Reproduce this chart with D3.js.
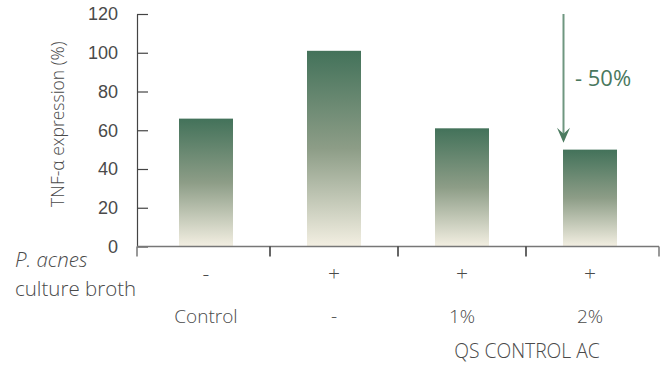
<!DOCTYPE html>
<html>
<head>
<meta charset="utf-8">
<script src="https://cdn.jsdelivr.net/npm/d3@7"></script>
<style>
  html, body { margin: 0; padding: 0; background: #fff; }
  svg { display: block; font-family: "Open Sans", "Noto Sans", sans-serif; font-weight: 300; }
</style>
</head>
<body>
<svg id="chart" width="671" height="367"></svg>
<script>
// TNF-α expression per treatment group
const groups = ["g1", "g2", "g3", "g4"];
const values = [66, 101, 61, 50];
const broth = ["-", "+", "+", "+"];
const treatment = ["Control", "-", "1%", "2%"];
const yTicks = [0, 20, 40, 60, 80, 100, 120];
const reductionLabel = "- 50%";

const svg = d3.select("#chart");
const axisLeftX = 137, axisRightX = 659, yBase = 246.5, yTop = 14;
const textColor = "#4a4a4a";

const x = d3.scaleBand().domain(groups).range([142, 654]);
const y = d3.scaleLinear().domain([0, 120]).range([yBase, yTop]);
const barW = 54;
const center = g => x(g) + x.bandwidth() / 2;

// vertical gradient: dark green at top fading to cream
const defs = svg.append("defs");
const grad = defs.append("linearGradient")
  .attr("id", "barGrad").attr("x1", 0).attr("y1", 0).attr("x2", 0).attr("y2", 1);
grad.append("stop").attr("offset", "0%").attr("stop-color", "#43725a");
grad.append("stop").attr("offset", "50%").attr("stop-color", "#8d9d87");
grad.append("stop").attr("offset", "100%").attr("stop-color", "#f3efe2");

svg.append("g").selectAll("rect")
  .data(values)
  .join("rect")
  .attr("x", (d, i) => center(groups[i]) - barW / 2)
  .attr("y", d => y(d))
  .attr("width", barW)
  .attr("height", d => yBase - y(d))
  .attr("fill", "url(#barGrad)");

// y axis with inward ticks
const yAxis = svg.append("g")
  .attr("transform", `translate(${axisLeftX},0)`)
  .call(d3.axisLeft(y).tickValues(yTicks).tickSizeInner(-11).tickSizeOuter(0).tickPadding(19));
yAxis.select(".domain").attr("stroke", "#444").attr("stroke-width", 1.2);
yAxis.selectAll(".tick line").attr("stroke", "#444").attr("stroke-width", 1.2);
yAxis.selectAll(".tick text")
  .attr("font-size", 18).attr("fill", textColor).attr("font-family", "inherit").attr("font-weight", 300);

// x axis: group boundaries marked with downward ticks
const xg = svg.append("g");
xg.append("line")
  .attr("x1", axisLeftX).attr("x2", axisRightX).attr("y1", yBase).attr("y2", yBase)
  .attr("stroke", "#777").attr("stroke-width", 1.5);
const bounds = [axisLeftX].concat(groups.slice(1).map(g => x(g)), [axisRightX]);
xg.selectAll("line.tk")
  .data(bounds)
  .join("line")
  .attr("class", "tk")
  .attr("x1", d => d).attr("x2", d => d)
  .attr("y1", yBase).attr("y2", yBase + 10)
  .attr("stroke", (d, i) => (i === 0 || i === bounds.length - 1) ? "#777" : "#333")
  .attr("stroke-width", 1.5);

// y axis title
svg.append("text")
  .attr("transform", `translate(64,${(yBase + yTop) / 2 - 6}) rotate(-90)`)
  .attr("text-anchor", "middle")
  .attr("font-size", 17.5)
  .attr("fill", textColor)
  .text("TNF-α expression (%)");

// row labels on the left
svg.append("text")
  .attr("x", 15).attr("y", 267)
  .attr("font-size", 20.5).attr("font-style", "italic").attr("fill", textColor)
  .text("P. acnes");
svg.append("text")
  .attr("x", 15).attr("y", 296)
  .attr("font-size", 20.5).attr("fill", textColor)
  .text("culture broth");

svg.append("g").selectAll("text")
  .data(broth)
  .join("text")
  .attr("x", (d, i) => center(groups[i]))
  .attr("y", 281)
  .attr("text-anchor", "middle")
  .attr("font-size", 21).attr("fill", textColor)
  .text(d => d);

svg.append("g").selectAll("text")
  .data(treatment)
  .join("text")
  .attr("x", (d, i) => center(groups[i]))
  .attr("y", 323)
  .attr("text-anchor", "middle")
  .attr("font-size", 19).attr("fill", textColor)
  .text(d => d);

svg.append("text")
  .attr("x", 527).attr("y", 358)
  .attr("text-anchor", "middle")
  .attr("font-size", 19.3).attr("fill", textColor)
  .text("QS CONTROL AC");

// reduction arrow above the last bar
const ax = 563.5;
const tipY = y(values[3]) - 7;
svg.append("line")
  .attr("x1", ax).attr("x2", ax)
  .attr("y1", y(120)).attr("y2", tipY - 8)
  .attr("stroke", "#6f9780").attr("stroke-width", 2);
svg.append("path")
  .attr("d", `M${ax - 6.5},${tipY - 15} L${ax},${tipY - 9} L${ax + 6.5},${tipY - 15} L${ax},${tipY} Z`)
  .attr("fill", "#4c7b60");
svg.append("text")
  .attr("x", 575).attr("y", 86)
  .attr("font-size", 22).attr("font-weight", 400).attr("fill", "#4a785e")
  .text(reductionLabel);
</script>
</body>
</html>
